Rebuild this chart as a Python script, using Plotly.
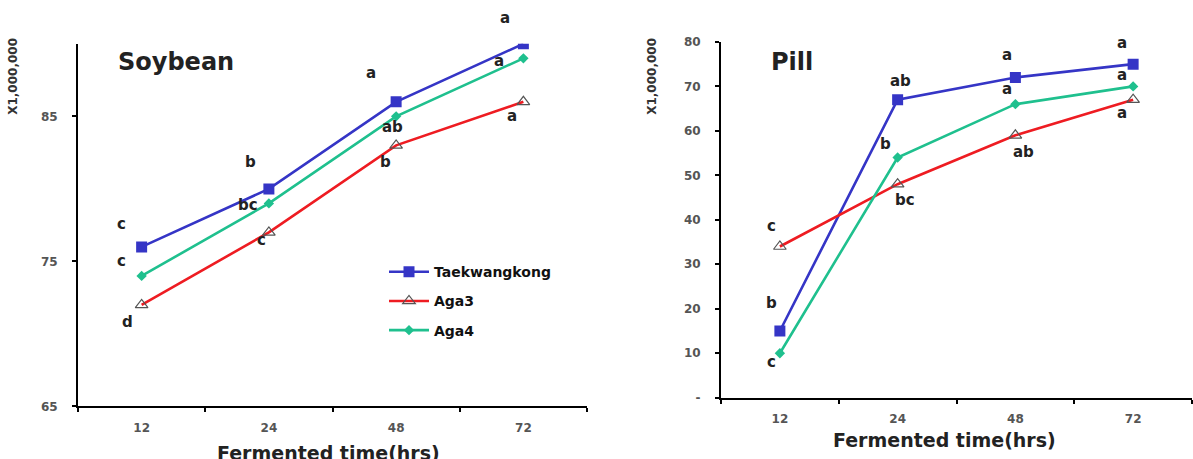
import plotly.graph_objects as go

# ---------------- data ----------------
times = ["12", "24", "48", "72"]
series_names = ["Taekwangkong", "Aga3", "Aga4"]

soy_taek = [76, 80, 86, 90]
soy_aga3 = [72, 77, 83, 86]
soy_aga4 = [74, 79, 85, 89]

pill_taek = [15, 67, 72, 75]
pill_aga3 = [34, 48, 59, 67]
pill_aga4 = [10, 54, 66, 70]

soy_letters_taek = ["c", "b", "a", "a"]
soy_letters_aga3 = ["d", "c", "b", "a"]
soy_letters_aga4 = ["c", "bc", "ab", "a"]

pill_letters_taek = ["b", "ab", "a", "a"]
pill_letters_aga3 = ["c", "bc", "ab", "a"]
pill_letters_aga4 = ["c", "b", "a", "a"]

soy_yticks = [65, 75, 85]
pill_yticks = [0, 10, 20, 30, 40, 50, 60, 70, 80]
pill_yticktext = ["-", "10", "20", "30", "40", "50", "60", "70", "80"]

# ---------------- styles ----------------
W, H = 1193, 459
FONT = "DejaVu Sans"
colors = {"Taekwangkong": "#3535C6", "Aga3": "#EE1C22", "Aga4": "#1FC08E"}
markers = {
    "Taekwangkong": dict(symbol="square", size=11, color="#3535C6"),
    "Aga3": dict(symbol="triangle-up-open", size=11, color="#555555", line=dict(width=1.2)),
    "Aga4": dict(symbol="diamond", size=8, color="#1FC08E"),
}

# letter label pixel offsets (xshift, yshift)
soy_off = {
    "Taekwangkong": [(-20, 23), (-18, 27), (-25, 29), (-18, 26)],
    "Aga3": [(-14, -17), (-7, -8), (-11, -17), (-11, -14)],
    "Aga4": [(-20, 15), (-21, -2), (-4, -11), (-24, -3)],
}
pill_off = {
    "Taekwangkong": [(-8, 28), (3, 19), (-8, 22), (-11, 21)],
    "Aga3": [(-8, 20), (7, -16), (8, -17), (-11, -13)],
    "Aga4": [(-8, -9), (-12, 14), (-8, 15), (-11, 11)],
}

fig = go.Figure()

soy_vals = {"Taekwangkong": soy_taek, "Aga3": soy_aga3, "Aga4": soy_aga4}
pill_vals = {"Taekwangkong": pill_taek, "Aga3": pill_aga3, "Aga4": pill_aga4}
soy_lets = {"Taekwangkong": soy_letters_taek, "Aga3": soy_letters_aga3, "Aga4": soy_letters_aga4}
pill_lets = {"Taekwangkong": pill_letters_taek, "Aga3": pill_letters_aga3, "Aga4": pill_letters_aga4}

for name in series_names:
    fig.add_trace(go.Scatter(
        x=times, y=soy_vals[name], name=name, mode="lines+markers",
        line=dict(color=colors[name], width=2.6), marker=markers[name],
        xaxis="x", yaxis="y", legendgroup=name, showlegend=True))
for name in series_names:
    fig.add_trace(go.Scatter(
        x=times, y=pill_vals[name], name=name, mode="lines+markers",
        line=dict(color=colors[name], width=2.6), marker=markers[name],
        xaxis="x2", yaxis="y2", legendgroup=name, showlegend=False))

annotations = []
letter_font = dict(family=FONT, size=15, color="#222222", weight="bold")
for name in series_names:
    for i, t in enumerate(times):
        xs, ys = soy_off[name][i]
        annotations.append(dict(x=i, y=soy_vals[name][i], xref="x", yref="y",
                                text=soy_lets[name][i], showarrow=False,
                                xanchor="center", yanchor="middle",
                                xshift=xs, yshift=ys, font=letter_font))
        xs, ys = pill_off[name][i]
        annotations.append(dict(x=i, y=pill_vals[name][i], xref="x2", yref="y2",
                                text=pill_lets[name][i], showarrow=False,
                                xanchor="center", yanchor="middle",
                                xshift=xs, yshift=ys, font=letter_font))

def px(x):
    return x / W

def py(y):
    return (H - y) / H

def paper_text(x, y, text, size, color="#222222", angle=0):
    return dict(x=px(x), y=py(y), xref="paper", yref="paper", text=text,
                xanchor="center", yanchor="middle", textangle=angle, showarrow=False,
                font=dict(family=FONT, size=size, color=color, weight="bold"))

# panel titles
annotations.append(paper_text(176, 57, "Soybean", 24))
annotations.append(paper_text(792, 57, "Pill", 24))
# y titles
annotations.append(paper_text(13, 72, "X1,000,000", 12, "#333333", -90))
annotations.append(paper_text(652, 72, "X1,000,000", 12, "#333333", -90))
# x titles
annotations.append(paper_text(328, 460, "Fermented time(hrs)", 19))
annotations.append(paper_text(944, 447, "Fermented time(hrs)", 19))

tick_font = dict(family=FONT, size=12, color="#555555", weight="bold")
common_x = dict(type="category", range=[-0.5, 3.5], showline=True, linecolor="black", linewidth=2,
                ticks="outside", ticklen=4, tickcolor="black", tickwidth=2, tickson="boundaries",
                showgrid=False, zeroline=False, tickfont=tick_font)
common_y = dict(showline=True, linecolor="black", linewidth=2, ticks="outside", ticklen=4,
                tickcolor="black", tickwidth=1.5, showgrid=False, zeroline=False,
                tickfont=tick_font, ticklabelstandoff=12)

fig.update_layout(
    width=W, height=H,
    margin=dict(l=0, r=0, t=0, b=0),
    paper_bgcolor="white", plot_bgcolor="white",
    xaxis=dict(domain=[px(78), px(587)], anchor="y", ticklabelstandoff=9, **common_x),
    yaxis=dict(domain=[py(412), py(38)], anchor="x", range=[65, 90], tickvals=soy_yticks, **common_y),
    xaxis2=dict(domain=[px(721), px(1192)], anchor="y2", ticklabelstandoff=9, **common_x),
    yaxis2=dict(domain=[py(403), py(36)], anchor="x2", range=[0, 80], tickvals=pill_yticks,
                ticktext=pill_yticktext, **common_y),
    showlegend=True,
    legend=dict(x=px(384), y=py(257), xanchor="left", yanchor="top",
                font=dict(family=FONT, size=14, color="#111111", weight="bold"),
                bgcolor="rgba(0,0,0,0)", traceorder="grouped", tracegroupgap=8,
                itemwidth=40),
    annotations=annotations,
)

fig.write_html("out.html")
